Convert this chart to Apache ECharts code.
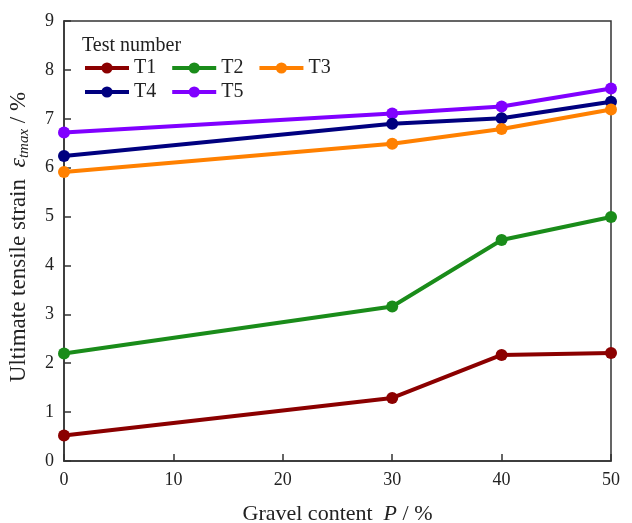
<!DOCTYPE html>
<html><head><meta charset="utf-8">
<script src="https://cdn.jsdelivr.net/npm/echarts@6/dist/echarts.min.js"></script>
<style>html,body{margin:0;padding:0;background:#fff}#c{width:632px;height:523px}</style>
</head><body><div id="c"></div>
<script>
const xValues = [0, 30, 40, 50];
const seriesNames = ['T1', 'T2', 'T3', 'T4', 'T5'];
const T1 = [0.52, 1.29, 2.17, 2.21];
const T2 = [2.2, 3.16, 4.52, 4.99];
const T3 = [5.91, 6.49, 6.79, 7.19];
const T4 = [6.24, 6.9, 7.01, 7.35];
const T5 = [6.72, 7.11, 7.25, 7.62];
const colors = ['#8b0000', '#1a8c1a', '#ff8000', '#00007f', '#8000ff'];
const values = [T1, T2, T3, T4, T5];
const font = 'Liberation Serif';

const chart = echarts.init(document.getElementById('c'));
const series = seriesNames.map((n, i) => ({
  name: n, type: 'line',
  data: xValues.map((x, j) => [x, values[i][j]]),
  symbol: 'circle', symbolSize: 12,
  lineStyle: { width: 4, color: colors[i] },
  itemStyle: { color: colors[i] },
  z: 10 - i
}));
const legendCommon = {
  left: 78, itemWidth: 44, itemHeight: 14, itemGap: 14,
  textStyle: { fontFamily: font, fontSize: 20, color: '#222' },
  lineStyle: { width: 4 }
};
chart.setOption({
  animation: false,
  color: colors,
  grid: { left: 64, right: 21, top: 21, bottom: 62, outerBoundsMode: 'none', containLabel: false, show: true, borderColor: '#333', borderWidth: 1.5, backgroundColor: 'transparent' },
  title: { text: 'Test number', left: 77, top: 31, textStyle: { fontFamily: font, fontSize: 20, fontWeight: 'normal', color: '#222' } },
  legend: [
    Object.assign({}, legendCommon, { data: ['T1', 'T2', 'T3'], top: 53 }),
    Object.assign({}, legendCommon, { data: ['T4', 'T5'], top: 77 })
  ],
  xAxis: {
    type: 'value', min: 0, max: 50, interval: 10,
    axisLine: { lineStyle: { color: '#333', width: 1.5 } },
    axisTick: { inside: true, length: 7, lineStyle: { color: '#333', width: 1.5 } },
    axisLabel: { fontFamily: font, fontSize: 18, color: '#222', margin: 10 },
    splitLine: { show: false },
    name: '{a|Gravel content  }{i|P}{a| / %}',
    nameLocation: 'middle', nameGap: 42,
    nameTextStyle: { rich: { a: { fontFamily: font, fontSize: 22, color: '#222' }, i: { fontFamily: font, fontSize: 22, fontStyle: 'italic', color: '#222' } } }
  },
  yAxis: {
    type: 'value', min: 0, max: 9, interval: 1,
    axisLine: { lineStyle: { color: '#333', width: 1.5 } },
    axisTick: { inside: true, length: 7, lineStyle: { color: '#333', width: 1.5 } },
    axisLabel: { fontFamily: font, fontSize: 18, color: '#222', margin: 10 },
    splitLine: { show: false },
    name: '{a|Ultimate tensile strain  }{e|ε}{s|tmax}{a| / %}',
    nameLocation: 'middle', nameGap: 32,
    nameTextStyle: { padding: [0, 0, 0, 8], rich: {
      a: { fontFamily: font, fontSize: 23, color: '#222', verticalAlign: 'middle' },
      e: { fontFamily: font, fontSize: 24, fontStyle: 'italic', color: '#222' },
      s: { fontFamily: font, fontSize: 15, fontStyle: 'italic', color: '#222', padding: [12, 0, 0, 0] }
    } }
  },
  series: series
});
</script></body></html>
